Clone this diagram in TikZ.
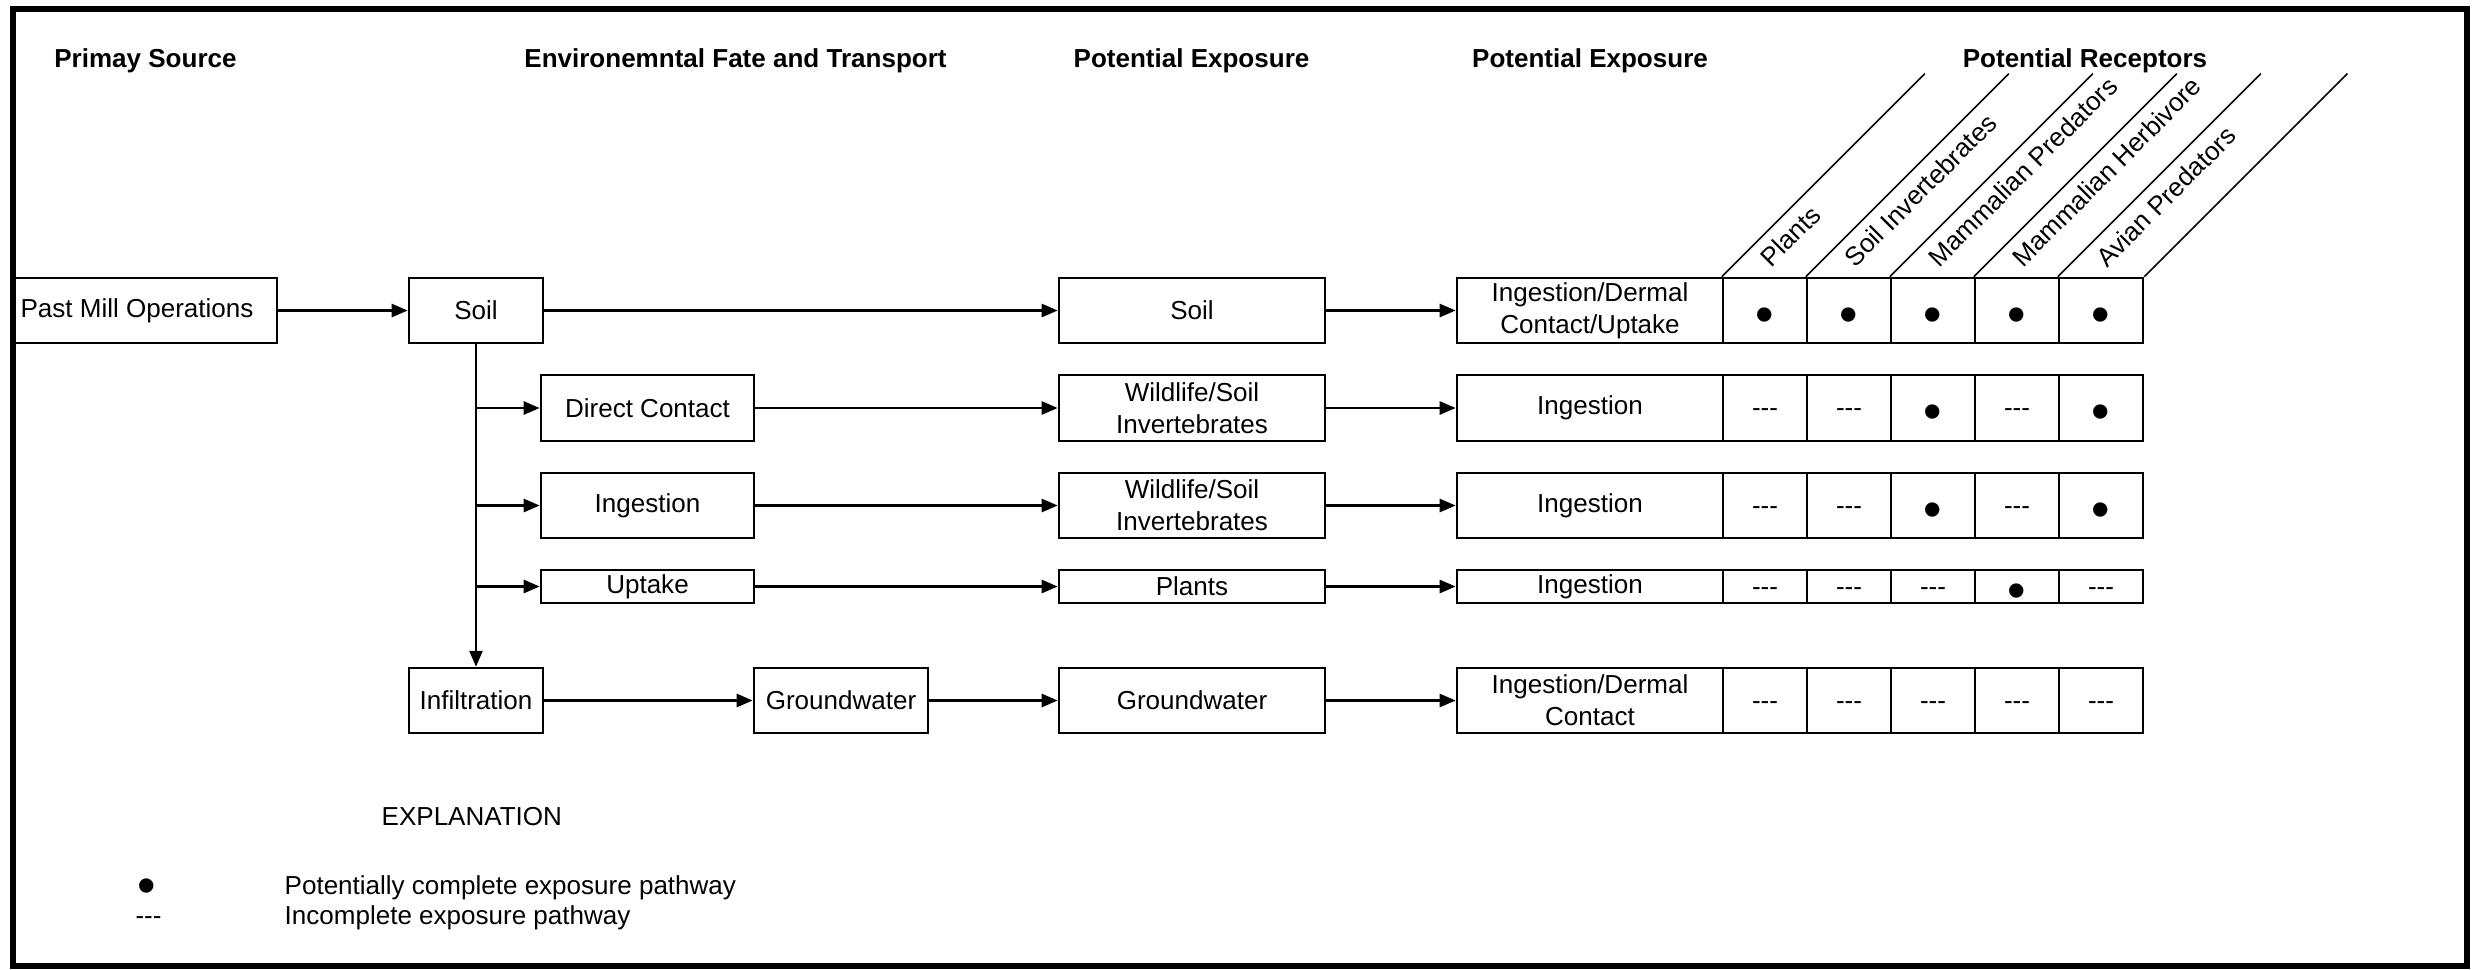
\documentclass[tikz,border=0pt]{standalone}
\usepackage{fontspec}
\setmainfont{Liberation Sans}
\usetikzlibrary{arrows.meta}
\newcommand\bodyfont{\fontsize{7.4pt}{9.1pt}\selectfont}
\newcommand\dotmark{{\fontsize{15pt}{15pt}\selectfont •}}
\newcommand\nomark{-\kern0pt-\kern0pt-}

\begin{document}
\begin{tikzpicture}[x=0.01cm, y=-0.01cm,
  every node/.style={font=\bodyfont, inner sep=0pt},
  box/.style={draw, line width=0.7pt, align=center, minimum height=0.65cm},
  head/.style={font=\bodyfont\bfseries, anchor=base},
  arr/.style={line width=0.75pt, -{Triangle[length=0.16cm, width=0.13cm]}},
  slant/.style={line width=0.45pt},
  cell/.style={draw, line width=0.7pt, minimum width=0.84cm, minimum height=#1},
  dotm/.style={yshift=-0.095cm, node contents={\dotmark}},
  dashm/.style={yshift=-0.05cm, node contents={\nomark}},
  tilt/.style={rotate=45, anchor=base west},
]
\useasboundingbox (0,0) rectangle (2472,969);
% outer frame
\draw[line width=1.7pt] (13,9) rectangle (2467,966);

% column headings
\node[head] (hsrc)  at (145.5,67) {Primay Source};
\node[head] (hfate) at (735.5,67) {Environemntal Fate and Transport};
\node[head] (hexpA) at (1191.5,67) {Potential Exposure};
\node[head] (hexpB) at (1590,67) {Potential Exposure};
\node[head] (hrec)  at (2085,67) {Potential Receptors};

% source and transport
\node[box, minimum width=2.64cm] (pmo)   at (145,310.5) {Past Mill Operations\hspace{0.16cm}};
\node[box, minimum width=1.34cm] (soilA) at (476,310.5) {Soil};
\node[box, minimum width=2.13cm, minimum height=0.66cm] (dc) at (647.5,408) {Direct Contact};
\node[box, minimum width=2.13cm] (ing)   at (647.5,505.5) {Ingestion};
\node[box, minimum width=2.13cm, minimum height=0.33cm] (upt) at (647.5,586.5) {Uptake};
\node[box, minimum width=1.34cm] (inf)   at (476,700.5) {Infiltration};
\node[box, minimum width=1.74cm] (gwA)   at (841,700.5) {Groundwater};

% exposure media
\node[box, minimum width=2.66cm] (soilB)  at (1192,310.5) {Soil};
\node[box, minimum width=2.66cm, minimum height=0.66cm] (wsA) at (1192,408) {Wildlife/Soil\\Invertebrates};
\node[box, minimum width=2.66cm] (wsB)    at (1192,505.5) {Wildlife/Soil\\Invertebrates};
\node[box, minimum width=2.66cm, minimum height=0.33cm] (plants) at (1192,586.5) {Plants};
\node[box, minimum width=2.66cm] (gwB)    at (1192,700.5) {Groundwater};

% exposure routes
\node[box, minimum width=2.66cm] (rt1) at (1590,310.5) {Ingestion/Dermal\\Contact/Uptake};
\node[box, minimum width=2.66cm, minimum height=0.66cm] (rt2) at (1590,408) {Ingestion};
\node[box, minimum width=2.66cm] (rt3) at (1590,505.5) {Ingestion};
\node[box, minimum width=2.66cm, minimum height=0.33cm] (rt4) at (1590,586.5) {Ingestion};
\node[box, minimum width=2.66cm] (rt5) at (1590,700.5) {Ingestion/Dermal\\Contact};

% receptor matrix: cell frames, then the pathway marks
\foreach \r/\y/\h/\marks in {
  1/310.5/0.65cm/{dotm,dotm,dotm,dotm,dotm},
  2/408/0.66cm/{dashm,dashm,dotm,dashm,dotm},
  3/505.5/0.65cm/{dashm,dashm,dotm,dashm,dotm},
  4/586.5/0.33cm/{dashm,dashm,dashm,dotm,dashm},
  5/700.5/0.65cm/{dashm,dashm,dashm,dashm,dashm}}{
  \foreach \m [count=\c] in \marks {
    \node[cell=\h] (c\r-\c) at ({1681+84*\c},\y) {};
    \node[name=m\r-\c, at={(c\r-\c.center)}, \m];
  }
}

% slanted receptor headings
\foreach \c in {1,...,5}
  \draw[slant] (c1-\c.north west) -- ++(2.03cm,2.03cm);
\draw[slant] (c1-5.north east) -- ++(2.03cm,2.03cm);
\foreach \c/\t in {1/Plants, 2/Soil Invertebrates, 3/Mammalian Predators,
                   4/Mammalian Herbivore, 5/Avian Predators}
  \node[tilt] (rcp\c) at ([xshift=0.49cm, yshift=0.08cm]c1-\c.north west) {\t};

% pathways
\draw[arr] (pmo) -- (soilA);
\draw[arr] (soilA) -- (soilB);
\draw[arr] (soilB) -- (rt1);
\draw[arr] (soilA) -- (inf);
\draw[arr] (soilA.south |- dc.west) -- (dc.west);
\draw[arr] (soilA.south |- ing.west) -- (ing.west);
\draw[arr] (soilA.south |- upt.west) -- (upt.west);
\draw[arr] (dc) -- (wsA);
\draw[arr] (ing) -- (wsB);
\draw[arr] (upt) -- (plants);
\draw[arr] (inf) -- (gwA);
\draw[arr] (gwA) -- (gwB);
\draw[arr] (wsA) -- (rt2);
\draw[arr] (wsB) -- (rt3);
\draw[arr] (plants) -- (rt4);
\draw[arr] (gwB) -- (rt5);

% legend
\node[anchor=base west] (expl) at (381,825) {EXPLANATION};
\node (legdot) at (147,891) {\dotmark};
\node[anchor=base west] (leg1) at (284,894) {Potentially complete exposure pathway};
\node[anchor=base] (legdash) at (148.5,924) {\nomark};
\node[anchor=base west] (leg2) at (284,924) {Incomplete exposure pathway};
\end{tikzpicture}
\end{document}
